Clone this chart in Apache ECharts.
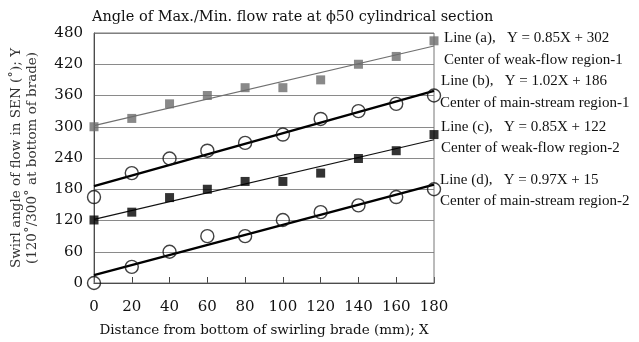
<!DOCTYPE html>
<html>
<head>
<meta charset="utf-8">
<script src="https://cdn.jsdelivr.net/npm/echarts@6/dist/echarts.min.js"></script>
<style>
  html, body { margin: 0; padding: 0; background: #fff; }
  #chart { width: 639px; height: 342px; }
</style>
</head>
<body>
<div id="chart"></div>
<script>
// distances from the bottom of the swirling blade (mm)
const xValues = [0, 20, 40, 60, 80, 100, 120, 140, 160, 180]
const weakFlow1 = [300, 316, 344, 360, 375, 375, 390, 420, 435, 465]   // grey squares
const mainStream1 = [165, 211, 239, 254, 269, 285, 315, 330, 344, 360] // upper circles
const weakFlow2 = [121, 136, 164, 180, 195, 195, 211, 239, 254, 285]   // black squares
const mainStream2 = [0, 31, 60, 90, 90, 121, 136, 149, 165, 180]      // lower circles
// fitted lines, endpoints at x = 0 and x = 180
const lineEnds = [0, 180]
const lineA = [302, 455]
const lineB = [186, 369]
const lineC = [122, 275]
const lineD = [15, 189]

const font = '"DejaVu Serif", "Liberation Serif", serif'
const noteFont = '"Liberation Serif", serif'
const pairs = (xs, ys) => xs.map((x, i) => [x, ys[i]])

const chart = echarts.init(document.getElementById('chart'), null, { renderer: 'canvas' })

const scatter = (data, symbol, size, fill, border) => ({
  type: 'scatter',
  data: pairs(xValues, data),
  symbol,
  symbolSize: size,
  itemStyle: { color: fill, borderColor: border, borderWidth: border ? 1.4 : 0 },
  z: 3
})

const fit = (data, color, width) => ({
  type: 'line',
  data: pairs(lineEnds, data),
  showSymbol: false,
  lineStyle: { color, width },
  z: 2
})

// annotation text to the right of the plot
const labelText = (x, y, text) => ({
  type: 'text',
  left: x,
  top: y,
  style: { text, font: '15px ' + noteFont, fill: '#111' }
})

const option = {
  animation: false,
  backgroundColor: '#fff',
  title: {
    text: 'Angle of Max./Min. flow rate at \u03d550 cylindrical section',
    left: 87,
    top: 5,
    textStyle: { fontFamily: font, fontSize: 14.5, fontWeight: 'normal', color: '#111' }
  },
  grid: { left: 94, right: 205, top: 33, bottom: 59, outerBoundsMode: 'none', containLabel: false },
  xAxis: {
    type: 'value',
    min: 0,
    max: 180,
    interval: 20,
    name: 'Distance from bottom of swirling brade (mm); X',
    nameLocation: 'middle',
    nameGap: 40,
    nameTextStyle: { fontFamily: font, fontSize: 13.5, color: '#111' },
    axisLine: { show: true, lineStyle: { color: '#222', width: 1 } },
    axisTick: { show: true, inside: true, length: 6, lineStyle: { color: '#444' } },
    axisLabel: { fontFamily: font, fontSize: 15, color: '#111', margin: 17 },
    splitLine: { show: false }
  },
  yAxis: {
    type: 'value',
    min: 0,
    max: 480,
    interval: 60,
    name: 'Swirl angle of flow in SEN (\u02da); Y\n(120\u02da/300\u02da at bottom of brade)',
    nameLocation: 'middle',
    nameGap: 54,
    nameTextStyle: { fontFamily: font, fontSize: 13.5, color: '#333', lineHeight: 16 },
    axisLine: { show: true, lineStyle: { color: '#222', width: 1 } },
    axisTick: { show: false },
    axisLabel: { fontFamily: font, fontSize: 15, color: '#111', margin: 11 },
    splitLine: { show: true, lineStyle: { color: '#8a8a8a', width: 1 } }
  },
  graphic: [
    { type: 'rect', shape: { x: 94, y: 33, width: 340, height: 250 },
      style: { fill: 'none', stroke: '#777', lineWidth: 1 }, silent: true, z: 1 },
    labelText(444, 31, 'Line (a),   Y = 0.85X + 302'),
    labelText(444, 53, 'Center of weak-flow region-1'),
    labelText(441, 74, 'Line (b),   Y = 1.02X + 186'),
    labelText(440, 96, 'Center of main-stream region-1'),
    labelText(441, 120, 'Line (c),   Y = 0.85X + 122'),
    labelText(441, 141, 'Center of weak-flow region-2'),
    labelText(440, 173, 'Line (d),   Y = 0.97X + 15'),
    labelText(440, 194, 'Center of main-stream region-2')
  ],
  series: [
    fit(lineA, '#707070', 1.2),
    fit(lineB, '#000', 2.4),
    fit(lineC, '#111', 1.2),
    fit(lineD, '#000', 2.4),
    scatter(weakFlow1, 'rect', 9, '#6b6b6b'),
    scatter(mainStream1, 'circle', 13, 'rgba(255,255,255,0)', '#111'),
    scatter(weakFlow2, 'rect', 9, '#000'),
    scatter(mainStream2, 'circle', 13, 'rgba(255,255,255,0)', '#111')
  ]
}

chart.setOption(option)
</script>
</body>
</html>
